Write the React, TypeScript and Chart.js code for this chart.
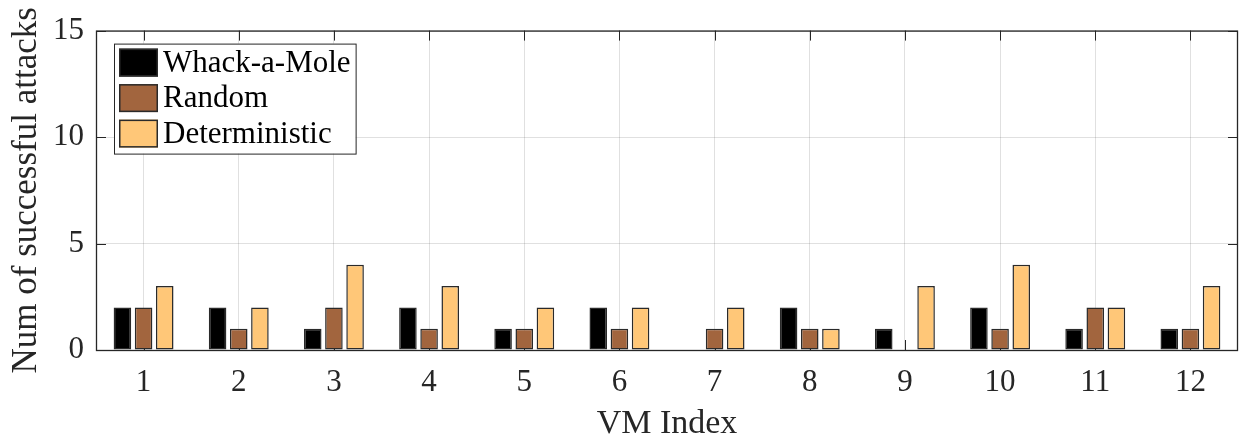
import React, { useEffect, useRef } from "react";
import { Chart, registerables } from "chart.js";

Chart.register(...registerables);

const categories = ["1", "2", "3", "4", "5", "6", "7", "8", "9", "10", "11", "12"];
const whackAMole = [2, 2, 1, 2, 1, 2, 0, 2, 1, 2, 1, 1];
const randomVals = [2, 1, 2, 1, 1, 1, 1, 1, 0, 1, 2, 1];
const deterministic = [3, 2, 4, 3, 2, 2, 2, 1, 3, 4, 2, 3];
const yTicks = [0, 5, 10, 15];
const seriesNames = ["Whack-a-Mole", "Random", "Deterministic"];
const seriesColors = ["#000000", "#A2653E", "#FFC778"];
const xTitle = "VM Index";
const yTitle = "Num of successful attacks";

const FONT = "'Liberation Serif', 'Times New Roman', serif";
const AXIS_COLOR = "#262626";

const framePlugin = {
  id: "matlabFrame",
  beforeDatasetsDraw(chart: any) {
    const { ctx, chartArea: a, scales } = chart;
    const tl = 10;
    ctx.save();
    ctx.strokeStyle = AXIS_COLOR;
    ctx.lineWidth = 1;
    ctx.beginPath();
    yTicks.forEach((v) => {
      const y = Math.round(scales.y.getPixelForValue(v)) + 0.5;
      ctx.moveTo(a.left, y);
      ctx.lineTo(a.left + tl, y);
      ctx.moveTo(a.right, y);
      ctx.lineTo(a.right - tl, y);
    });
    categories.forEach((_, i) => {
      const x = Math.round(scales.x.getPixelForValue(i)) + 0.5;
      ctx.moveTo(x, a.bottom);
      ctx.lineTo(x, a.bottom - tl);
      ctx.moveTo(x, a.top);
      ctx.lineTo(x, a.top + tl);
    });
    ctx.stroke();
    ctx.lineWidth = 1.3;
    ctx.strokeRect(a.left + 0.5, a.top + 0.5, a.right - a.left - 1, a.bottom - a.top);
    ctx.restore();
  },
  afterDraw(chart: any) {
    const { ctx, chartArea: a } = chart;
    const fontSize = 31;
    ctx.save();
    ctx.font = `${fontSize}px ${FONT}`;
    const boxL = a.left + 18;
    const boxT = a.top + 13;
    const swL = boxL + 5;
    const swW = 39;
    const swH = 28;
    const pitch = 35.5;
    const textX = swL + swW + 5;
    let maxW = 0;
    seriesNames.forEach((n) => {
      maxW = Math.max(maxW, ctx.measureText(n).width);
    });
    const boxW = textX + maxW + 5 - boxL;
    const boxH = 110;
    ctx.fillStyle = "#ffffff";
    ctx.fillRect(boxL, boxT, boxW, boxH);
    ctx.strokeStyle = AXIS_COLOR;
    ctx.lineWidth = 1;
    ctx.strokeRect(boxL + 0.5, boxT + 0.5, boxW, boxH);
    seriesNames.forEach((n, i) => {
      const top = boxT + 5 + i * pitch;
      ctx.fillStyle = seriesColors[i];
      ctx.fillRect(swL, top, swW, swH);
      ctx.strokeStyle = "#2a2a2a";
      ctx.lineWidth = 1.5;
      ctx.strokeRect(swL + 0.75, top + 0.75, swW - 1.5, swH - 1.5);
      ctx.fillStyle = "#000000";
      ctx.textBaseline = "middle";
      ctx.textAlign = "left";
      ctx.fillText(n, textX, top + swH / 2 + 1);
    });
    ctx.restore();
  },
};

export default function App() {
  const ref = useRef<HTMLCanvasElement | null>(null);

  useEffect(() => {
    if (!ref.current) return;
    const values = [whackAMole, randomVals, deterministic];
    const chart = new Chart(ref.current, {
      type: "bar",
      data: {
        labels: categories,
        datasets: seriesNames.map((name, i) => ({
          label: name,
          data: values[i],
          backgroundColor: seriesColors[i],
          borderColor: "#2a2a2a",
          borderWidth: 1.5,
          borderSkipped: false,
          barPercentage: 0.83,
          categoryPercentage: 0.667,
        })),
      },
      options: {
        animation: false,
        responsive: false,
        devicePixelRatio: 1,
        layout: { padding: { top: 30, right: 1, left: 0, bottom: 0 } },
        plugins: {
          legend: { display: false },
          tooltip: { enabled: false },
        },
        scales: {
          x: {
            type: "category",
            offset: true,
            grid: {
              offset: false,
              color: "rgba(38,38,38,0.14)",
              lineWidth: 1,
              drawTicks: false,
            },
            border: { display: false },
            ticks: {
              color: AXIS_COLOR,
              padding: 14,
              maxRotation: 0,
              autoSkip: false,
              font: { family: FONT, size: 31 },
            },
            title: {
              display: true,
              text: xTitle,
              color: AXIS_COLOR,
              font: { family: FONT, size: 34, lineHeight: 1 },
              padding: { top: 0, bottom: 0 },
            },
            afterFit(scale: any) {
              scale.height = 91;
            },
          },
          y: {
            min: 0,
            max: 15,
            afterBuildTicks(scale: any) {
              scale.ticks = yTicks.map((v) => ({ value: v }));
            },
            grid: {
              color: "rgba(38,38,38,0.14)",
              lineWidth: 1,
              drawTicks: false,
            },
            border: { display: false },
            ticks: {
              color: AXIS_COLOR,
              padding: 12,
              font: { family: FONT, size: 31 },
            },
            title: {
              display: true,
              text: yTitle,
              color: AXIS_COLOR,
              font: { family: FONT, size: 35, lineHeight: 1 },
              padding: { top: 9, bottom: 0 },
            },
            afterFit(scale: any) {
              scale.width = 96;
            },
          },
        },
      },
      plugins: [framePlugin],
    });
    return () => chart.destroy();
  }, []);

  return (
    <div style={{ position: "absolute", left: 0, top: 0, width: 1239, height: 441, background: "#fff" }}>
      <canvas ref={ref} width={1239} height={441} style={{ display: "block" }} />
    </div>
  );
}
